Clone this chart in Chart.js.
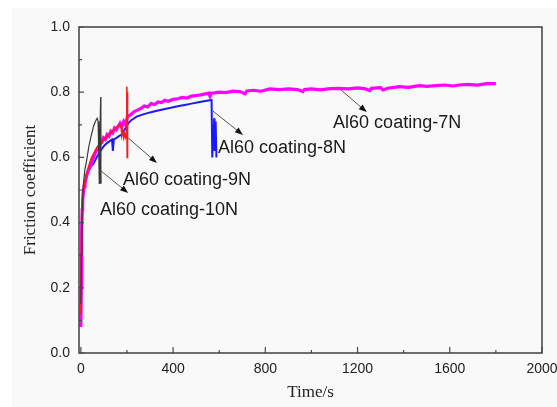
<!DOCTYPE html>
<html>
<head>
<meta charset="utf-8">
<script src="https://cdn.jsdelivr.net/npm/chart.js@4"></script>
<style>
  body { margin: 0; background: #fff; }
  canvas { display: block; }
</style>
</head>
<body>
<canvas id="friction" width="557" height="407"></canvas>
<script>
// Friction coefficient vs time
const xTicks = [0, 400, 800, 1200, 1600, 2000];
const yTicks = [0.0, 0.2, 0.4, 0.6, 0.8, 1.0];

// Al60 coating-7N (magenta)
const t7 = [0, 2, 4, 6, 8, 10, 14, 18, 24, 30, 36, 42, 50, 58, 66, 74, 82, 90, 98, 106, 114, 122, 130, 138, 146, 154, 162, 170, 178, 186, 194, 202, 215, 230, 245, 260, 275, 290, 305, 320, 335, 350, 365, 380, 400, 420, 440, 460, 480, 500, 520, 540, 555, 560, 565, 580, 600, 630, 660, 690, 712, 720, 750, 780, 820, 860, 900, 940, 963, 970, 1000, 1040, 1080, 1120, 1160, 1200, 1230, 1254, 1260, 1300, 1310, 1330, 1380, 1420, 1470, 1500, 1540, 1580, 1614, 1640, 1680, 1720, 1760, 1800];
const f7 = [0.08, 0.20, 0.38, 0.44, 0.47, 0.49, 0.51, 0.52, 0.54, 0.555, 0.565, 0.575, 0.59, 0.605, 0.62, 0.625, 0.64, 0.645, 0.66, 0.655, 0.67, 0.665, 0.68, 0.675, 0.69, 0.685, 0.695, 0.705, 0.695, 0.71, 0.70, 0.725, 0.73, 0.74, 0.745, 0.75, 0.758, 0.755, 0.765, 0.762, 0.77, 0.768, 0.775, 0.772, 0.778, 0.78, 0.784, 0.782, 0.788, 0.79, 0.792, 0.795, 0.797, 0.788, 0.797, 0.798, 0.80, 0.799, 0.803, 0.802, 0.795, 0.804, 0.806, 0.803, 0.81, 0.808, 0.81, 0.808, 0.802, 0.808, 0.81, 0.807, 0.811, 0.812, 0.81, 0.813, 0.811, 0.805, 0.812, 0.814, 0.807, 0.812, 0.817, 0.815, 0.82, 0.818, 0.82, 0.822, 0.819, 0.822, 0.824, 0.822, 0.826, 0.826];

// Al60 coating-8N (blue)
const t8 = [0, 3, 6, 11, 18, 25, 32, 40, 54, 65, 76, 90, 100, 112, 125, 135, 139, 143, 155, 165, 177, 190, 206, 220, 242, 270, 300, 330, 360, 390, 420, 450, 480, 510, 540, 567, 570, 574, 576, 578, 580, 582, 584, 586, 588];
const f8 = [0.10, 0.35, 0.44, 0.49, 0.52, 0.545, 0.56, 0.57, 0.58, 0.595, 0.61, 0.625, 0.635, 0.643, 0.65, 0.655, 0.62, 0.655, 0.66, 0.665, 0.67, 0.685, 0.705, 0.715, 0.725, 0.732, 0.738, 0.743, 0.748, 0.752, 0.757, 0.761, 0.765, 0.769, 0.773, 0.776, 0.60, 0.70, 0.63, 0.72, 0.62, 0.71, 0.64, 0.70, 0.60];

// Al60 coating-9N (red)
const t9 = [0, 3, 8, 15, 25, 35, 47, 58, 69, 80, 90, 98, 110, 120, 127, 140, 156, 169, 175, 178, 182, 186, 190, 194, 197, 199, 200, 201, 202, 203];
const f9 = [0.12, 0.36, 0.47, 0.52, 0.55, 0.575, 0.60, 0.615, 0.63, 0.64, 0.645, 0.653, 0.66, 0.668, 0.674, 0.682, 0.694, 0.70, 0.69, 0.668, 0.678, 0.66, 0.672, 0.662, 0.675, 0.66, 0.817, 0.60, 0.80, 0.62];

// Al60 coating-10N (black)
const t10 = [0, 2, 5, 10, 17, 25, 35, 46, 55, 63, 71, 75, 78, 80, 83, 86, 87, 88];
const f10 = [0.15, 0.30, 0.42, 0.51, 0.56, 0.59, 0.635, 0.67, 0.695, 0.71, 0.72, 0.71, 0.60, 0.52, 0.68, 0.785, 0.56, 0.52];

// callouts: arrow from -> to, label at (data coords)
const notes = [
  { text: 'Al60 coating-7N', from: [1128, 0.807], to: [1240, 0.739], at: [1094, 0.705] },
  { text: 'Al60 coating-8N', from: [573, 0.742], to: [703, 0.669], at: [595, 0.629] },
  { text: 'Al60 coating-9N', from: [200, 0.663], to: [330, 0.583], at: [183, 0.531] },
  { text: 'Al60 coating-10N', from: [83, 0.561], to: [205, 0.491], at: [83, 0.439] }
];

const pts = (t, f) => t.map((x, i) => ({ x: x, y: f[i] }));

const sansFont = '"Liberation Sans", Arial, sans-serif';
const serifFont = '"Liberation Serif", "Times New Roman", serif';

// page background and frame with inward ticks
const framePlugin = {
  id: 'frame',
  beforeDraw(chart) {
    const ctx = chart.ctx;
    ctx.save();
    ctx.fillStyle = '#f9f9f9';
    ctx.fillRect(12, 8, chart.width - 12, chart.height - 8);
    ctx.restore();
  },
  afterDraw(chart) {
    const { ctx, chartArea: a, scales: { x, y } } = chart;
    ctx.save();
    ctx.strokeStyle = '#4a4a4a';
    ctx.lineWidth = 1.6;
    ctx.strokeRect(a.left, a.top, a.right - a.left, a.bottom - a.top);
    ctx.lineWidth = 1.2;
    ctx.beginPath();
    for (let v = 0; v <= 2000; v += 200) {
      const px = x.getPixelForValue(v);
      const len = v % 400 === 0 ? 6 : 3;
      ctx.moveTo(px, a.bottom);
      ctx.lineTo(px, a.bottom - len);
    }
    for (let k = 0; k <= 10; k++) {
      const py = y.getPixelForValue(k / 10);
      const len = k % 2 === 0 ? 5 : 3;
      ctx.moveTo(a.left, py);
      ctx.lineTo(a.left + len, py);
    }
    ctx.stroke();

    // callouts
    notes.forEach(n => {
      const x1 = x.getPixelForValue(n.from[0]), y1 = y.getPixelForValue(n.from[1]);
      const x2 = x.getPixelForValue(n.to[0]), y2 = y.getPixelForValue(n.to[1]);
      const ang = Math.atan2(y2 - y1, x2 - x1);
      ctx.strokeStyle = '#555';
      ctx.lineWidth = 1;
      ctx.beginPath();
      ctx.moveTo(x1, y1);
      ctx.lineTo(x2 - 5 * Math.cos(ang), y2 - 5 * Math.sin(ang));
      ctx.stroke();
      ctx.fillStyle = '#111';
      ctx.beginPath();
      ctx.moveTo(x2, y2);
      ctx.lineTo(x2 - 8 * Math.cos(ang) + 3 * Math.sin(ang), y2 - 8 * Math.sin(ang) - 3 * Math.cos(ang));
      ctx.lineTo(x2 - 8 * Math.cos(ang) - 3 * Math.sin(ang), y2 - 8 * Math.sin(ang) + 3 * Math.cos(ang));
      ctx.closePath();
      ctx.fill();
      ctx.font = '18px ' + sansFont;
      ctx.fillStyle = '#1a1a1a';
      ctx.textAlign = 'left';
      ctx.textBaseline = 'middle';
      ctx.fillText(n.text, x.getPixelForValue(n.at[0]), y.getPixelForValue(n.at[1]));
    });
    ctx.restore();
  }
};

new Chart(document.getElementById('friction'), {
  type: 'line',
  data: {
    datasets: [
      { label: 'Al60 coating-10N', data: pts(t10, f10), borderColor: '#3a3a3a', borderWidth: 1.2 },
      { label: 'Al60 coating-9N', data: pts(t9, f9), borderColor: '#ff1a1a', borderWidth: 1.6 },
      { label: 'Al60 coating-7N', data: pts(t7, f7), borderColor: '#ff00ff', borderWidth: 3.2 },
      { label: 'Al60 coating-8N', data: pts(t8, f8), borderColor: '#1a1aff', borderWidth: 2 }
    ]
  },
  options: {
    responsive: false,
    animation: false,
    events: [],
    elements: { point: { radius: 0 }, line: { tension: 0, fill: false } },
    layout: { padding: { top: 27, right: 15, left: 0, bottom: 0 } },
    plugins: { legend: { display: false }, tooltip: { enabled: false } },
    scales: {
      x: {
        type: 'linear',
        min: -8,
        max: 2000,
        afterBuildTicks: s => { s.ticks = xTicks.map(v => ({ value: v })); },
        afterFit: s => { s.height = 54; s.paddingLeft = 0; s.paddingRight = 0; },
        grid: { display: false, drawTicks: false },
        border: { display: false },
        ticks: { padding: 8, color: '#222', font: { family: sansFont, size: 14 }, maxRotation: 0, autoSkip: false, callback: v => String(v) },
        title: { display: true, text: 'Time/s', color: '#222', font: { family: serifFont, size: 17 }, padding: { bottom: 4 } }
      },
      y: {
        min: 0,
        max: 1,
        afterBuildTicks: s => { s.ticks = yTicks.map(v => ({ value: v })); },
        afterFit: s => { s.width = 79; s.paddingTop = 0; s.paddingBottom = 0; },
        grid: { display: false, drawTicks: false },
        border: { display: false },
        ticks: { padding: 9, color: '#222', font: { family: sansFont, size: 14 }, callback: v => v.toFixed(1) },
        title: { display: true, text: 'Friction coefficient', color: '#222', font: { family: serifFont, size: 17 }, padding: { top: 20 } }
      }
    }
  },
  plugins: [framePlugin]
});
</script>
</body>
</html>
